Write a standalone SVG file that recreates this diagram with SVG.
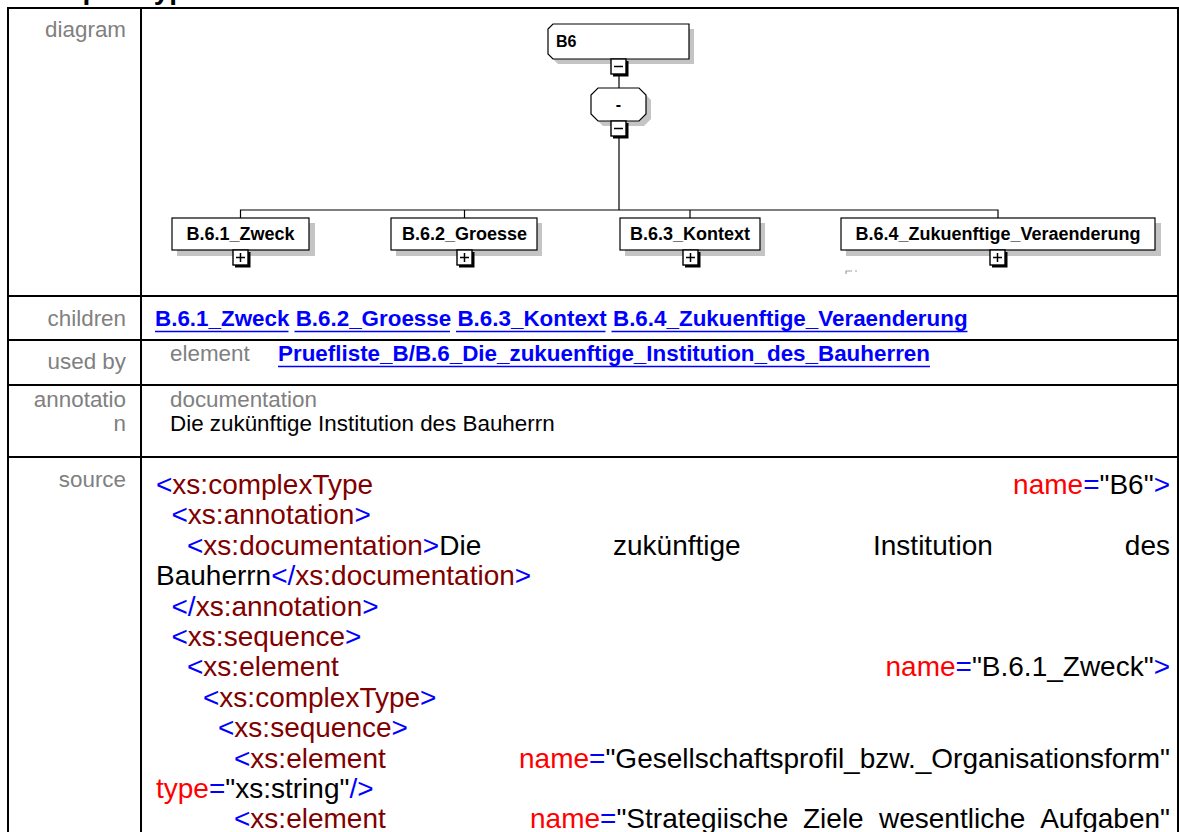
<svg xmlns="http://www.w3.org/2000/svg" width="1179" height="832" viewBox="0 0 1179 832">
  <style>
    text { font-family: "Liberation Sans", Arial, sans-serif; }
    .lbl { font-size: 22.4px; fill: #808080; text-anchor: end; }
    .sub { font-size: 22.4px; fill: #808080; }
    .txt { font-size: 22.4px; fill: #000000; }
    .lnk { font-size: 22.4px; font-weight: bold; fill: #0000ff; }
    .ul { stroke: #0000ff; stroke-width: 1.6; }
    .code { font-size: 28px; fill: #000000; }
    .b { fill: #0000ff; }
    .m { fill: #800000; }
    .r { fill: #ff0000; }
    .k { fill: #000000; }
    .grid { stroke: #000000; stroke-width: 2; fill: none; }
    .box { fill: #ffffff; stroke: #000000; stroke-width: 1.2; }
    .shadow { fill: #c4c4c4; }
    .tog { fill: #ffffff; stroke: #000000; stroke-width: 1.4; }
    .togsh { fill: #000000; }
    .name { font-size: 18px; font-weight: bold; fill: #000000; text-anchor: middle; }
    .wire { stroke: #000000; stroke-width: 1.2; fill: none; }
    .sign { stroke: #000000; stroke-width: 1.5; fill: none; }
  </style>

  <!-- page heading, scrolled mostly out of view -->
  <text x="25" y="-1.5" style="font-size:28px;font-weight:bold;fill:#000">complexType B6</text>

  <!-- table frame -->
  <g id="table">
    <rect class="grid" x="8" y="8" width="1170" height="900"/>
    <line class="grid" x1="141" y1="8" x2="141" y2="832"/>
    <line class="grid" x1="8" y1="296" x2="1179" y2="296"/>
    <line class="grid" x1="8" y1="340" x2="1179" y2="340"/>
    <line class="grid" x1="8" y1="385" x2="1179" y2="385"/>
    <line class="grid" x1="8" y1="457" x2="1179" y2="457"/>
  </g>

  <!-- row labels -->
  <g id="labels">
    <text class="lbl" x="126" y="37">diagram</text>
    <text class="lbl" x="126" y="326">children</text>
    <text class="lbl" x="126" y="369">used by</text>
    <text class="lbl" x="126" y="407">annotatio</text>
    <text class="lbl" x="126" y="431">n</text>
    <text class="lbl" x="126" y="487">source</text>
  </g>

  <!-- connectors of the content model -->
  <g id="connectors">
    <line class="wire" x1="619" y1="76" x2="619" y2="88"/>
    <line class="wire" x1="619" y1="138" x2="619" y2="210"/>
    <polyline class="wire" points="240.5,218 240.5,210 998,210 998,218"/>
    <line class="wire" x1="464.5" y1="210" x2="464.5" y2="218"/>
    <line class="wire" x1="690" y1="210" x2="690" y2="218"/>
  </g>

  <!-- root type -->
  <g id="node-B6">
    <path class="shadow" d="M558,29 H694 V64 H558 L553,59 V34 Z"/>
    <path class="box" d="M553,24 H689 V59 H553 L548,54 V29 Z"/>
    <text x="556" y="47" style="font-size:16px;font-weight:bold;fill:#000">B6</text>
    <rect class="togsh" x="613" y="61" width="15.5" height="15.5"/>
    <rect class="tog" x="611" y="59" width="15" height="15"/>
    <line class="sign" x1="614" y1="66.5" x2="623" y2="66.5"/>
  </g>

  <!-- sequence compositor -->
  <g id="node-sequence">
    <path class="shadow" d="M603,93 H644 L651,100 V119 L644,126 H603 L596,119 V100 Z"/>
    <path class="box" d="M598,88 H639 L646,95 V114 L639,121 H598 L591,114 V95 Z"/>
    <text x="618.5" y="110" style="font-size:16px;font-weight:bold;fill:#000;text-anchor:middle">-</text>
    <rect class="togsh" x="613" y="123" width="15.5" height="15.5"/>
    <rect class="tog" x="611" y="121" width="15" height="15"/>
    <line class="sign" x1="614" y1="128.5" x2="623" y2="128.5"/>
  </g>

  <g id="node-B.6.1_Zweck">
    <rect class="shadow" x="177" y="223" width="138" height="33"/>
    <rect class="box" x="172" y="218" width="137" height="32"/>
    <text class="name" x="240.5" y="240">B.6.1_Zweck</text>
    <rect class="togsh" x="235" y="252" width="15.5" height="15.5"/>
    <rect class="tog" x="233" y="250" width="15" height="15"/>
    <path class="sign" d="M236,257.5 H245 M240.5,253 V262"/>
  </g>

  <g id="node-B.6.2_Groesse">
    <rect class="shadow" x="396" y="223" width="146" height="33"/>
    <rect class="box" x="391" y="218" width="146" height="32"/>
    <text class="name" x="464.5" y="240">B.6.2_Groesse</text>
    <rect class="togsh" x="459" y="252" width="15.5" height="15.5"/>
    <rect class="tog" x="457" y="250" width="15" height="15"/>
    <path class="sign" d="M460,257.5 H469 M464.5,253 V262"/>
  </g>

  <g id="node-B.6.3_Kontext">
    <rect class="shadow" x="625" y="223" width="140" height="33"/>
    <rect class="box" x="620" y="218" width="140" height="32"/>
    <text class="name" x="690" y="240">B.6.3_Kontext</text>
    <rect class="togsh" x="685" y="252" width="15.5" height="15.5"/>
    <rect class="tog" x="683" y="250" width="15" height="15"/>
    <path class="sign" d="M686,257.5 H695 M690.5,253 V262"/>
  </g>

  <g id="node-B.6.4_Zukuenftige_Veraenderung">
    <rect class="shadow" x="846" y="223" width="315" height="33"/>
    <rect class="box" x="841" y="218" width="314" height="32"/>
    <text class="name" x="998" y="240">B.6.4_Zukuenftige_Veraenderung</text>
    <rect class="togsh" x="992" y="252" width="15.5" height="15.5"/>
    <rect class="tog" x="990" y="250" width="15" height="15"/>
    <path class="sign" d="M993,257.5 H1002 M997.5,253 V262"/>
    <path d="M846,274 V271 H852 M855,271 h2" stroke="#9aa0b0" stroke-width="1.2" fill="none"/>
  </g>

  <!-- children -->
  <g id="children-links">
    <text class="lnk" x="155" y="326">B.6.1_Zweck B.6.2_Groesse B.6.3_Kontext B.6.4_Zukuenftige_Veraenderung</text>
    <path class="ul" d="M155,331.5 H288.5 M294.5,331.5 H450 M456,331.5 H605.5 M611.5,331.5 H967.5"/>
  </g>

  <!-- used by -->
  <g id="used-by">
    <text class="sub" x="170" y="361">element</text>
    <text class="lnk" x="278" y="361">Pruefliste_B/B.6_Die_zukuenftige_Institution_des_Bauherren</text>
    <line class="ul" x1="278" y1="366.5" x2="930" y2="366.5"/>
  </g>

  <!-- annotation -->
  <text class="sub" x="170" y="407">documentation</text>
  <text class="txt" x="170" y="431">Die zukünftige Institution des Bauherrn</text>

  <!-- source listing -->
  <g id="source" class="code">
    <text x="156" y="494"><tspan class="b">&lt;</tspan><tspan class="m">xs:complexType</tspan></text>
    <text x="1170" y="494" text-anchor="end"><tspan class="r">name</tspan><tspan class="b">=</tspan><tspan class="k">"B6"</tspan><tspan class="b">&gt;</tspan></text>

    <text x="171.5" y="524.4"><tspan class="b">&lt;</tspan><tspan class="m">xs:annotation</tspan><tspan class="b">&gt;</tspan></text>

    <text x="187" y="554.8"><tspan class="b">&lt;</tspan><tspan class="m">xs:documentation</tspan><tspan class="b">&gt;</tspan><tspan class="k">Die</tspan></text>
    <text x="613" y="554.8" class="k">zukünftige</text>
    <text x="873" y="554.8" class="k">Institution</text>
    <text x="1170" y="554.8" class="k" text-anchor="end">des</text>

    <text x="156" y="585.2"><tspan class="k">Bauherrn</tspan><tspan class="b">&lt;/</tspan><tspan class="m">xs:documentation</tspan><tspan class="b">&gt;</tspan></text>

    <text x="171.5" y="615.6"><tspan class="b">&lt;/</tspan><tspan class="m">xs:annotation</tspan><tspan class="b">&gt;</tspan></text>

    <text x="171.5" y="646"><tspan class="b">&lt;</tspan><tspan class="m">xs:sequence</tspan><tspan class="b">&gt;</tspan></text>

    <text x="187" y="676.4"><tspan class="b">&lt;</tspan><tspan class="m">xs:element</tspan></text>
    <text x="1170" y="676.4" text-anchor="end"><tspan class="r">name</tspan><tspan class="b">=</tspan><tspan class="k">"B.6.1_Zweck"</tspan><tspan class="b">&gt;</tspan></text>

    <text x="203" y="706.8"><tspan class="b">&lt;</tspan><tspan class="m">xs:complexType</tspan><tspan class="b">&gt;</tspan></text>

    <text x="218" y="737.2"><tspan class="b">&lt;</tspan><tspan class="m">xs:sequence</tspan><tspan class="b">&gt;</tspan></text>

    <text x="234" y="767.6"><tspan class="b">&lt;</tspan><tspan class="m">xs:element</tspan></text>
    <text x="1170" y="767.6" text-anchor="end"><tspan class="r">name</tspan><tspan class="b">=</tspan><tspan class="k">"Gesellschaftsprofil_bzw._Organisationsform"</tspan></text>

    <text x="156" y="798"><tspan class="r">type</tspan><tspan class="b">=</tspan><tspan class="k">"xs:string"</tspan><tspan class="b">/&gt;</tspan></text>

    <text x="234" y="828.4"><tspan class="b">&lt;</tspan><tspan class="m">xs:element</tspan></text>
    <text x="530" y="828.4"><tspan class="r">name</tspan><tspan class="b">=</tspan><tspan class="k">"Strategiische</tspan></text>
    <text x="803" y="828.4" class="k">Ziele</text>
    <text x="879" y="828.4" class="k">wesentliche</text>
    <text x="1170" y="828.4" class="k" text-anchor="end">Aufgaben"</text>
  </g>
</svg>
